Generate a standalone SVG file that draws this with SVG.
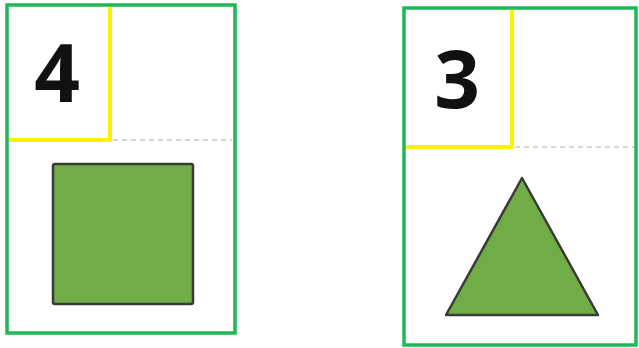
<svg xmlns="http://www.w3.org/2000/svg" width="639" height="348" viewBox="0 0 639 348">
<style>
.card{fill:#fff;stroke:#1DB954;stroke-width:3.5}
.yel{fill:none;stroke:#FFF200;stroke-width:4}
.dash{fill:none;stroke:#ccc;stroke-width:1.5;stroke-dasharray:5 4}
.shape{fill:#70AD47;stroke:#3a3a3a;stroke-width:2.5;stroke-linejoin:round}
.num{font-family:"Open Sans","Liberation Sans",sans-serif;font-weight:bold;font-size:80px;fill:#111;text-anchor:middle}
</style>
<rect width="639" height="348" fill="#fff"/>
<g id="card4">
<rect class="card" x="7" y="5" width="228" height="328"/>
<polyline class="yel" points="110,7 110,140 9,140"/>
<line class="dash" x1="113" y1="140" x2="232" y2="140"/>
<text class="num" x="57" y="102">4</text>
<rect class="shape" x="53" y="164" width="140" height="140" rx="2"/>
</g>
<g id="card3">
<rect class="card" x="404" y="8" width="232" height="337"/>
<polyline class="yel" points="512,10 512,147 406,147"/>
<line class="dash" x1="515" y1="147" x2="634" y2="147"/>
<text class="num" x="457" y="108">3</text>
<polygon class="shape" points="522,178 446,315 598,315"/>
</g>
</svg>
